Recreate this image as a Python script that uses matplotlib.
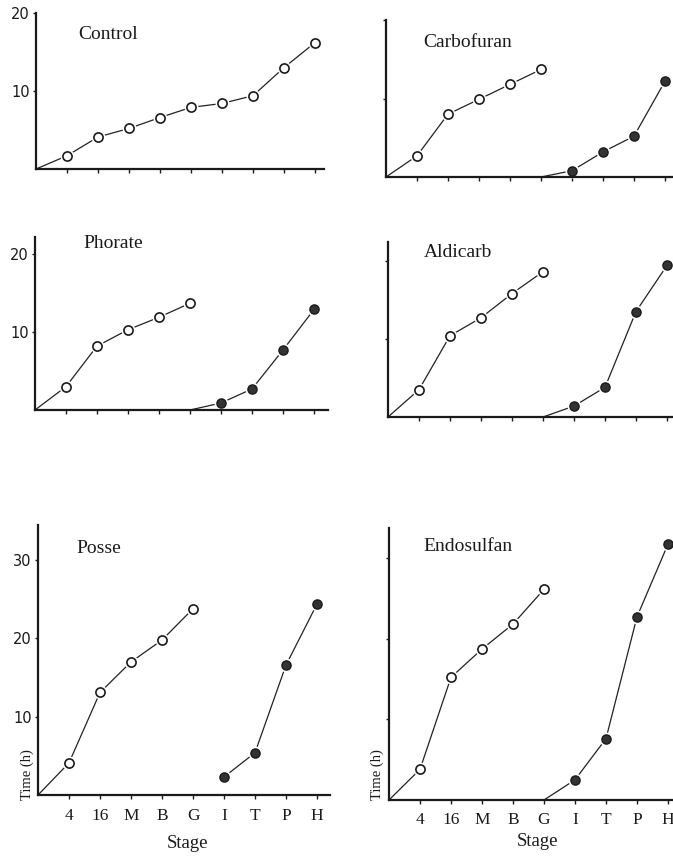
import matplotlib
matplotlib.use("Agg")
import matplotlib.pyplot as plt

# ---------------- data ----------------
stages = ['4', '16', 'M', 'B', 'G', 'I', 'T', 'P', 'H']

control_open = [1.7, 4.1, 5.2, 6.6, 7.9, 8.4, 9.4, 13.0, 16.2]

carbofuran_open = [2.7, 8.0, 9.9, 11.8, 13.7]
carbofuran_filled = [0.8, 3.2, 5.2, 12.2]

phorate_open = [3.0, 8.2, 10.3, 11.9, 13.7]
phorate_filled = [0.9, 2.7, 7.7, 12.9]

aldicarb_open = [3.5, 10.4, 12.7, 15.8, 18.6]
aldicarb_filled = [1.4, 3.8, 13.5, 19.4]

posse_open = [4.1, 13.1, 17.0, 19.8, 23.8]
posse_filled = [2.3, 5.4, 16.6, 24.4]

endosulfan_open = [3.8, 15.2, 18.7, 21.8, 26.1]
endosulfan_filled = [2.5, 7.6, 22.7, 31.7]

W, H = 673, 858
fig = plt.figure(figsize=(W / 100, H / 100), dpi=100)
fig.patch.set_facecolor('white')

SERIF = ['Liberation Serif', 'DejaVu Serif']
SANS = ['DejaVu Sans']
INK = '#1a1a1a'


def rect(l, b, r, t):
    return [l / W, 1 - b / H, (r - l) / W, (b - t) / H]


panels = [
    dict(name='Control', r=(36, 169, 324, 13), ymax=20.0, op=control_open, fi=None,
         fromG=False, yt=[10, 20], yl=True, xl=False, tp=(1.35, 17.2)),
    dict(name='Carbofuran', r=(386, 177, 673, 20), ymax=19.9, op=carbofuran_open,
         fi=carbofuran_filled, fromG=True, yt=[10, 20], yl=False, xl=False, tp=(1.2, 17.1)),
    dict(name='Phorate', r=(35, 410, 328, 237), ymax=22.2, op=phorate_open,
         fi=phorate_filled, fromG=True, yt=[10, 20], yl=True, xl=False, tp=(1.55, 21.4)),
    dict(name='Aldicarb', r=(388, 417, 673, 242), ymax=22.4, op=aldicarb_open,
         fi=aldicarb_filled, fromG=True, yt=[10, 20], yl=False, xl=False, tp=(1.16, 21.0)),
    dict(name='Posse', r=(38, 795, 330, 525), ymax=34.5, op=posse_open,
         fi=posse_filled, fromG=False, yt=[10, 20, 30], yl=True, xl=True, tp=(1.25, 31.5)),
    dict(name='Endosulfan', r=(389, 800, 673, 528), ymax=33.7, op=endosulfan_open,
         fi=endosulfan_filled, fromG=True, yt=[10, 20, 30], yl=False, xl=True, tp=(1.1, 31.4)),
]

spacing = 31.0
for p in panels:
    l, b, r, t = p['r']
    ax = fig.add_axes(rect(l, b, r, t))
    ax.set_facecolor('none')
    ax.set_xlim(0, (r - l) / spacing)
    ax.set_ylim(0, p['ymax'])
    for s in ['top', 'right']:
        ax.spines[s].set_visible(False)
    for s in ['left', 'bottom']:
        ax.spines[s].set_linewidth(1.6)
        ax.spines[s].set_color(INK)

    n_open = len(p['op'])
    xo = [0] + list(range(1, n_open + 1))
    yo = [0] + list(p['op'])
    ax.plot(xo, yo, color='#222222', lw=0.9, zorder=2, clip_on=False)
    ax.plot(xo[1:], yo[1:], ls='none', marker='o', ms=10, mfc='white',
            mec='none', zorder=2.5, clip_on=False)
    ax.plot(xo[1:], yo[1:], ls='none', marker='o', ms=6.6, mfc='white',
            mec=INK, mew=1.2, zorder=3, clip_on=False)

    if p['fi'] is not None:
        xf = list(range(6, 6 + len(p['fi'])))
        yf = list(p['fi'])
        if p['fromG']:
            xl_ = [5] + xf
            yl_ = [0] + yf
        else:
            xl_, yl_ = xf, yf
        ax.plot(xl_, yl_, color='#222222', lw=0.9, zorder=2, clip_on=False)
        ax.plot(xf, yf, ls='none', marker='o', ms=10, mfc='white',
                mec='none', zorder=2.5, clip_on=False)
        ax.plot(xf, yf, ls='none', marker='o', ms=6.6, mfc='#333333',
                mec=INK, mew=1.0, zorder=3, clip_on=False)

    ax.set_xticks(range(1, 10))
    if p['xl']:
        ax.set_xticklabels(stages, fontsize=12.5, family=SERIF)
    else:
        ax.set_xticklabels([])
    ax.set_yticks(p['yt'])
    if p['yl']:
        ax.set_yticklabels([str(v) for v in p['yt']], fontsize=10.5, family=SANS)
    else:
        ax.set_yticklabels([])
    ax.tick_params(axis='x', direction='out', length=3, width=1.0, pad=6, colors=INK)
    ax.tick_params(axis='y', direction='out', length=2.5, width=1.0, pad=2, colors=INK)

    ax.text(p['tp'][0], p['tp'][1], p['name'], fontsize=14, family=SERIF,
            ha='left', va='center', color=INK)

# axis labels
fig.text(27 / W, 1 - 775 / H, 'Time (h)', rotation=90, fontsize=10.5, family=SERIF,
         ha='center', va='center', color=INK)
fig.text(377 / W, 1 - 775 / H, 'Time (h)', rotation=90, fontsize=10.5, family=SERIF,
         ha='center', va='center', color=INK)
fig.text(188 / W, 1 - 843 / H, 'Stage', fontsize=13.5, family=SERIF,
         ha='center', va='center', color=INK)
fig.text(537 / W, 1 - 841 / H, 'Stage', fontsize=13.5, family=SERIF,
         ha='center', va='center', color=INK)

fig.savefig('out.png', dpi=100, facecolor=fig.get_facecolor())
